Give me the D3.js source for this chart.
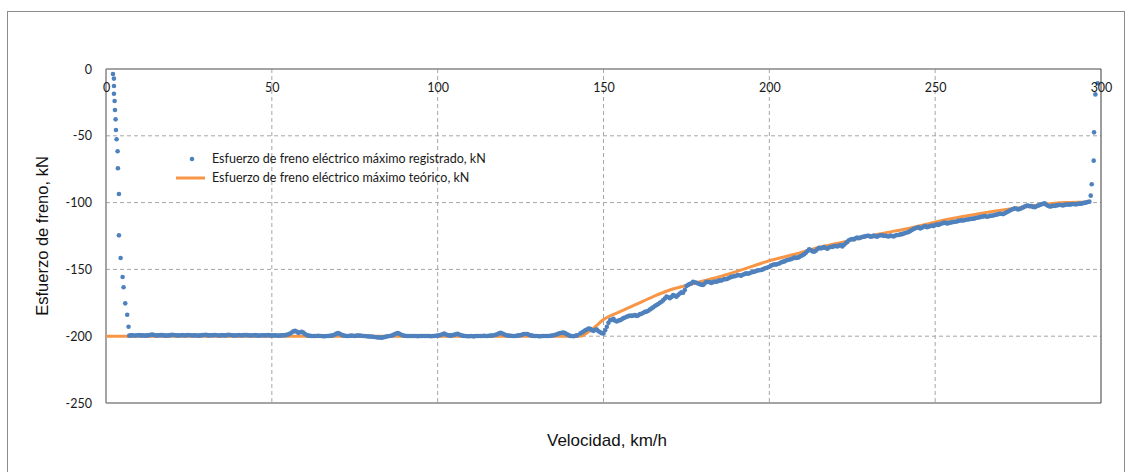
<!DOCTYPE html>
<html>
<head>
<meta charset="utf-8">
<script src="https://cdn.jsdelivr.net/npm/d3@7"></script>
<style>
  html, body { margin: 0; padding: 0; background: #fff; }
  svg { display: block; }
</style>
</head>
<body>
<div id="chart"></div>
<script>
// ticks
const xTicks = [0, 50, 100, 150, 200, 250, 300];
const yTicks = [0, -50, -100, -150, -200, -250];

// registrado: caída inicial [km/h, kN]
const regArranque = [
  [2.1, -3.7], [2.4, -7.2], [2.4, -12.7], [2.4, -18.5], [2.6, -24], [2.7, -30.7],
  [2.9, -37.7], [3.0, -45.7], [3.2, -52.6], [3.5, -61.6], [3.6, -74.3], [3.9, -93.6],
  [3.9, -124.5], [4.4, -141.5], [5.0, -155.7], [5.3, -163.4], [5.8, -175.4],
  [6.4, -183.9], [6.8, -192.9]
];

// registrado: meseta a -200 kN
const regMeseta = [
  [7, -199.6], [8, -199.3], [9, -199.5], [10, -199.2], [11, -199.4], [12, -199.6], [13, -199.3],
  [14, -198.8], [15, -199.5], [16, -199.3], [17, -199.2], [18, -199.6], [19, -199.4], [20, -199.0],
  [21, -199.3], [22, -199.5], [23, -199.2], [24, -199.4], [25, -199.1], [26, -199.5], [27, -199.3],
  [28, -199.6], [29, -199.2], [30, -199.0], [31, -199.4], [32, -199.3], [33, -199.1], [34, -199.5],
  [35, -199.2], [36, -199.4], [37, -199.0], [38, -199.3], [39, -199.5], [40, -199.2], [41, -199.4],
  [42, -199.1], [43, -199.3], [44, -199.5], [45, -199.2], [46, -199.6], [47, -199.3], [48, -199.4],
  [49, -199.2], [50, -199.5], [51, -199.3], [52, -199.6], [53, -199.4], [54, -199.2], [55, -198.6],
  [56, -197.2], [57, -195.9], [58, -197.5], [59, -196.8], [60, -198.4], [61, -199.6], [62, -199.8],
  [63, -199.9], [64, -199.7], [65, -199.9], [66, -200.0], [67, -199.8], [68, -199.6], [69, -198.8],
  [70, -197.6], [71, -199.0], [72, -199.7], [73, -199.9], [74, -199.6], [75, -199.8], [76, -199.5],
  [77, -199.7], [78, -199.9], [79, -200.1], [80, -200.3], [81, -200.6], [82, -200.9], [83, -201.2],
  [84, -200.6], [85, -200.0], [86, -199.7], [87, -198.6], [88, -197.6], [89, -198.9], [90, -199.7],
  [91, -199.8], [92, -199.9], [93, -199.8], [94, -200.0], [95, -199.9], [96, -199.8], [97, -199.9],
  [98, -200.0], [99, -199.8], [100, -199.6], [101, -199.0], [102, -198.1], [103, -199.2], [104, -199.6],
  [105, -198.9], [106, -198.2], [107, -199.3], [108, -199.8], [109, -200.0], [110, -199.9], [111, -200.1],
  [112, -199.8], [113, -199.9], [114, -199.7], [115, -199.9], [116, -199.6], [117, -199.3], [118, -198.5],
  [119, -197.4], [120, -198.6], [121, -199.5], [122, -199.7], [123, -199.9], [124, -199.6], [125, -199.3],
  [126, -198.4], [127, -198.3], [128, -199.4], [129, -199.8], [130, -199.9], [131, -200.0], [132, -199.8],
  [133, -199.9], [134, -199.7], [135, -199.3], [136, -198.5], [137, -197.6], [138, -197.3], [139, -198.6],
  [140, -199.8], [141, -200.0], [142, -199.4]
];

// registrado: meseta, lecturas intermedias
const regMesetaMedia = [
  [7.5, -199.4], [8.5, -199.5], [9.5, -199.3], [10.5, -199.4], [11.5, -199.5], [12.5, -199.4],
  [13.5, -199.0], [14.5, -199.1], [15.5, -199.4], [16.5, -199.2], [17.5, -199.4], [18.5, -199.5],
  [19.5, -199.2], [20.5, -199.1], [21.5, -199.4], [22.5, -199.3], [23.5, -199.3], [24.5, -199.2],
  [25.5, -199.3], [26.5, -199.4], [27.5, -199.5], [28.5, -199.4], [29.5, -199.1], [30.5, -199.2],
  [31.5, -199.3], [32.5, -199.2], [33.5, -199.3], [34.5, -199.4], [35.5, -199.3], [36.5, -199.2],
  [37.5, -199.1], [38.5, -199.4], [39.5, -199.3], [40.5, -199.3], [41.5, -199.2], [42.5, -199.2],
  [43.5, -199.4], [44.5, -199.3], [45.5, -199.4], [46.5, -199.5], [47.5, -199.3], [48.5, -199.3],
  [49.5, -199.4], [50.5, -199.4], [51.5, -199.5], [52.5, -199.5], [53.5, -199.3], [54.5, -199.0],
  [55.5, -198.0], [56.5, -196.4], [57.5, -196.6], [58.5, -197.0], [59.5, -197.3], [60.5, -199.1],
  [61.5, -199.7], [62.5, -199.9], [63.5, -199.8], [64.5, -199.8], [65.5, -200.0], [66.5, -199.9],
  [67.5, -199.7], [68.5, -199.3], [69.5, -198.1], [70.5, -198.2], [71.5, -199.4], [72.5, -199.8],
  [73.5, -199.7], [74.5, -199.7], [75.5, -199.6], [76.5, -199.6], [77.5, -199.8], [78.5, -200.0],
  [79.5, -200.2], [80.5, -200.4], [81.5, -200.8], [82.5, -201.0], [83.5, -200.9], [84.5, -200.3],
  [85.5, -199.8], [86.5, -199.2], [87.5, -198.0], [88.5, -198.2], [89.5, -199.4], [90.5, -199.8],
  [91.5, -199.9], [92.5, -199.8], [93.5, -199.9], [94.5, -199.9], [95.5, -199.8], [96.5, -199.9],
  [97.5, -199.9], [98.5, -199.9], [99.5, -199.7], [100.5, -199.3], [101.5, -198.5], [102.5, -198.7],
  [103.5, -199.4], [104.5, -199.2], [105.5, -198.5], [106.5, -198.8], [107.5, -199.6], [108.5, -199.9],
  [109.5, -200.0], [110.5, -200.0], [111.5, -199.9], [112.5, -199.9], [113.5, -199.8], [114.5, -199.8],
  [115.5, -199.7], [116.5, -199.5], [117.5, -198.9], [118.5, -197.9], [119.5, -198.0], [120.5, -199.1],
  [121.5, -199.6], [122.5, -199.8], [123.5, -199.8], [124.5, -199.4], [125.5, -198.8], [126.5, -198.3],
  [127.5, -198.9], [128.5, -199.6], [129.5, -199.9], [130.5, -200.0], [131.5, -199.9], [132.5, -199.9],
  [133.5, -199.8], [134.5, -199.5], [135.5, -198.9], [136.5, -198.0], [137.5, -197.4], [138.5, -197.9],
  [139.5, -199.2], [140.5, -199.9], [141.5, -199.7]
];

// registrado: zona de potencia constante
const regRampa = [
  [143, -198], [144, -196.5], [145, -195], [146, -194.5], [147, -196], [148, -195], [149, -197],
  [150, -198], [151, -193], [152, -188], [153, -187], [154, -189], [155, -188], [156, -186.5],
  [157, -185.4], [158, -184.5], [159, -184.5], [160, -184.9], [161, -183.5], [162, -182.5], [163, -181.6],
  [164, -180], [165, -178.3], [166, -176.6], [167, -175], [168, -173], [169, -170.4], [170, -171.6],
  [171, -169.2], [172, -170.4], [173, -168], [174, -167.5], [175, -162.5], [176, -161], [177, -159.2],
  [178, -160], [179, -161], [180, -161.7], [181, -159.2], [182, -159.5], [183, -159.6], [184, -159.2],
  [185, -158.2], [186, -157.8], [187, -157.4], [188, -156.2], [189, -155.3], [190, -154.7], [191, -154.4],
  [192, -154], [193, -153], [194, -152.9], [195, -152], [196, -151.2], [197, -150.6], [198, -150],
  [199, -149], [200, -148], [201, -146.7], [202, -146.4], [203, -145.6], [204, -144.4], [205, -143.4],
  [206, -142.6], [207, -141.8], [208, -141.4], [209, -140.8], [210, -139.4], [211, -137.5], [212, -135],
  [213, -136.5], [214, -136], [215, -133.8], [216, -134], [217, -134], [218, -133.6], [219, -133.2],
  [220, -132.5], [221, -132.2], [222, -132.8], [223, -130.5], [224, -128.2], [225, -127.2], [226, -126.7],
  [227, -126.7], [228, -125.8], [229, -125.2], [230, -124.9], [231, -125.3], [232, -125.2], [233, -124.8],
  [234, -124.4], [235, -124.8], [236, -125.4], [237, -125], [238, -124.6], [239, -124.3], [240, -123.6],
  [241, -122.8], [242, -122], [243, -120.5], [244, -119.2], [245, -118.4], [246, -118.8], [247, -117.6],
  [248, -118], [249, -117.2], [250, -116.8], [251, -116.8], [252, -115.6], [253, -115], [254, -115.4],
  [255, -114.8], [256, -114.3], [257, -113.7], [258, -113.3], [259, -113], [260, -112.6], [261, -112.2],
  [262, -111.8], [263, -111.2], [264, -110.6], [265, -110], [266, -110.4], [267, -109.8], [268, -109.3],
  [269, -108.7], [270, -108.3], [271, -108], [272, -106.7], [273, -105.3], [274, -104.3], [275, -105.2],
  [276, -104.2], [277, -103], [278, -102.2], [279, -102.6], [280, -103.4], [281, -102.3], [282, -101.3],
  [283, -100.6], [284, -102.4], [285, -102.8], [286, -102.5], [287, -101.9], [288, -101.8], [289, -101.7],
  [290, -101.4], [291, -101.3], [292, -101.2], [293, -101], [294, -100.8], [295, -100.2], [296, -99.5]
];

// registrado: zona de potencia constante, lecturas intermedias
const regRampaMedia = [
  [143.5, -197.2], [144.5, -195.6], [145.5, -194.2], [146.5, -195.6], [147.5, -195.2], [148.5, -196.3],
  [149.5, -197.8], [150.5, -195.5], [151.5, -190], [152.5, -187.8], [153.5, -188.4], [154.5, -188.2],
  [155.5, -187.4], [156.5, -186], [157.5, -185], [158.5, -184.8], [159.5, -184.2], [160.5, -184.4],
  [161.5, -183.2], [162.5, -181.8], [163.5, -181], [164.5, -179.2], [165.5, -177.4], [166.5, -175.9],
  [167.5, -174.2], [168.5, -171.8], [169.5, -170.8], [170.5, -170.6], [171.5, -169.8], [172.5, -169.2],
  [173.5, -167.2], [174.5, -165.5], [175.5, -161.6], [176.5, -160.4], [177.5, -159.6], [178.5, -160.6],
  [179.5, -161.4], [180.5, -160.5], [181.5, -159.4], [182.5, -160.2], [183.5, -159.1], [184.5, -158.8],
  [185.5, -158.4], [186.5, -157.2], [187.5, -156.9], [188.5, -155.6], [189.5, -155.1], [190.5, -154.2],
  [191.5, -154.8], [192.5, -153.4], [193.5, -153.2], [194.5, -152.3], [195.5, -151.8], [196.5, -150.7],
  [197.5, -150.4], [198.5, -149.4], [199.5, -148.6], [200.5, -147.2], [201.5, -146.2], [202.5, -146],
  [203.5, -144.8], [204.5, -144], [205.5, -143], [206.5, -142.4], [207.5, -141.2], [208.5, -141.2],
  [209.5, -140], [210.5, -138.6], [211.5, -136.3], [212.5, -135.6], [213.5, -136.8], [214.5, -134.8],
  [215.5, -134.4], [216.5, -133.2], [217.5, -134.5], [218.5, -133], [219.5, -132.6], [220.5, -132.9],
  [221.5, -131.8], [222.5, -131.6], [223.5, -129.4], [224.5, -127.6], [225.5, -127.6], [226.5, -126.2],
  [227.5, -126.2], [228.5, -125.5], [229.5, -124.8], [230.5, -125.6], [231.5, -124.7], [232.5, -125.6],
  [233.5, -124.4], [234.5, -124.9], [235.5, -125.2], [236.5, -124.6], [237.5, -125.3], [238.5, -124.2],
  [239.5, -123.8], [240.5, -123.2], [241.5, -122.4], [242.5, -121.2], [243.5, -119.8], [244.5, -118.8],
  [245.5, -119.3], [246.5, -118.1], [247.5, -118.4], [248.5, -117.5], [249.5, -117.6], [250.5, -116.3],
  [251.5, -116], [252.5, -115.2], [253.5, -115.6], [254.5, -114.9], [255.5, -114.5], [256.5, -114.1],
  [257.5, -113.4], [258.5, -113.4], [259.5, -112.7], [260.5, -112.3], [261.5, -112], [262.5, -111.3],
  [263.5, -110.9], [264.5, -110.3], [265.5, -110.6], [266.5, -109.9], [267.5, -109.6], [268.5, -109],
  [269.5, -108.4], [270.5, -108.6], [271.5, -107.3], [272.5, -106], [273.5, -104.8], [274.5, -104.6],
  [275.5, -104.8], [276.5, -103.6], [277.5, -102.4], [278.5, -102.8], [279.5, -103.2], [280.5, -102.8],
  [281.5, -101.8], [282.5, -100.9], [283.5, -101.6], [284.5, -102.9], [285.5, -102.3], [286.5, -102.1],
  [287.5, -101.6], [288.5, -102.1], [289.5, -101.5], [290.5, -101.5], [291.5, -101], [292.5, -101.3],
  [293.5, -100.8], [294.5, -100.5], [295.5, -100]
];

// registrado: subida final
const regFinal = [
  [296.5, -99.3], [296.9, -94.8], [297.2, -86.3], [297.8, -68.6], [297.9, -47.4],
  [298.3, -19], [299, -10.7]
];

// teórico
const teorico = [
  [0, -200], [143, -200], [145, -197.5], [147, -194], [150, -187.5], [155, -181.6], [160, -176],
  [165, -170.4], [170, -165.4], [175, -162], [180, -158.7], [185, -155.5], [190, -151.7],
  [195, -147.5], [200, -143.5], [207.7, -138.7], [212.7, -135], [222.8, -129.2], [232.8, -123.7],
  [242.9, -118.8], [253.9, -112.5], [264, -108], [274, -104.3], [284, -101], [289, -100], [296, -99.5]
];

const serieNombres = [
  "Esfuerzo de freno eléctrico máximo registrado, kN",
  "Esfuerzo de freno eléctrico máximo teórico, kN"
];

const W = 1131, H = 472;
const blue = "#4F81BD", orange = "#F79646";

const svg = d3.select("#chart").append("svg")
  .attr("width", W).attr("height", H);

// marco exterior
svg.append("rect")
  .attr("x", 7.5).attr("y", 11.5)
  .attr("width", 1117).attr("height", 480)
  .attr("fill", "none").attr("stroke", "#8c8c8c").attr("stroke-width", 1);

const x = d3.scaleLinear().domain([0, 300]).range([106, 1101]);
const y = d3.scaleLinear().domain([-250, 0]).range([403, 69]);

// rejilla
svg.append("g").selectAll("line")
  .data(yTicks.filter(d => d !== 0 && d !== -250))
  .join("line")
  .attr("x1", x(0)).attr("x2", x(300))
  .attr("y1", d => y(d)).attr("y2", d => y(d))
  .attr("stroke", "#a6a6a6").attr("stroke-dasharray", "4,3").attr("stroke-width", 1);

svg.append("g").selectAll("line")
  .data(xTicks.filter(d => d !== 0 && d !== 300))
  .join("line")
  .attr("x1", d => x(d)).attr("x2", d => x(d))
  .attr("y1", y(0)).attr("y2", y(-250))
  .attr("stroke", "#a6a6a6").attr("stroke-dasharray", "4,3").attr("stroke-width", 1);

// ejes
const axisCol = "#868686";
svg.append("line").attr("x1", x(0)).attr("x2", x(300)).attr("y1", y(0)).attr("y2", y(0))
  .attr("stroke", axisCol).attr("stroke-width", 1.5);
svg.append("line").attr("x1", x(0)).attr("x2", x(300)).attr("y1", y(-250)).attr("y2", y(-250))
  .attr("stroke", axisCol).attr("stroke-width", 1.5);
svg.append("line").attr("x1", x(0)).attr("x2", x(0)).attr("y1", y(0)).attr("y2", y(-250))
  .attr("stroke", axisCol).attr("stroke-width", 1.5);
svg.append("line").attr("x1", x(300)).attr("x2", x(300)).attr("y1", y(0)).attr("y2", y(-250))
  .attr("stroke", "#3a3a3a").attr("stroke-width", 1);

// serie teórica
const line = d3.line().x(d => x(d[0])).y(d => y(d[1])).curve(d3.curveMonotoneX);
svg.append("path")
  .datum(teorico)
  .attr("d", line)
  .attr("fill", "none").attr("stroke", orange).attr("stroke-width", 3);

// serie registrada
const registrado = regArranque.concat(regMeseta, regMesetaMedia, regRampa, regRampaMedia, regFinal);
svg.append("g").selectAll("circle")
  .data(registrado)
  .join("circle")
  .attr("cx", d => x(d[0]))
  .attr("cy", d => y(d[1]))
  .attr("r", 2.3)
  .attr("fill", blue);

// etiquetas de ejes
const tickFont = "Lato, 'Open Sans', sans-serif";
const gx = svg.append("g")
  .attr("transform", `translate(0,${y(0)})`)
  .call(d3.axisBottom(x).tickValues(xTicks).tickSize(0).tickPadding(14).tickFormat(d => String(d)));
gx.select(".domain").remove();
gx.selectAll("text").attr("font-family", tickFont).attr("font-size", 12.5).attr("fill", "#1a1a1a");

const gy = svg.append("g")
  .attr("transform", `translate(${x(0)},0)`)
  .call(d3.axisLeft(y).tickValues(yTicks).tickSize(0).tickPadding(14).tickFormat(d => String(d)));
gy.select(".domain").remove();
gy.selectAll("text").attr("font-family", tickFont).attr("font-size", 12.5).attr("fill", "#1a1a1a");

// títulos
svg.append("text")
  .attr("transform", `translate(48,236) rotate(-90)`)
  .attr("text-anchor", "middle")
  .attr("font-family", "'Liberation Sans', Arial, sans-serif")
  .attr("font-size", 16.5)
  .attr("fill", "#111")
  .text("Esfuerzo de freno, kN");

svg.append("text")
  .attr("x", 607).attr("y", 446)
  .attr("text-anchor", "middle")
  .attr("font-family", "'Liberation Sans', Arial, sans-serif")
  .attr("font-size", 17)
  .attr("fill", "#111")
  .text("Velocidad, km/h");

// leyenda
const legend = svg.append("g").attr("font-family", tickFont).attr("font-size", 12.5).attr("fill", "#1a1a1a");
legend.append("circle").attr("cx", 192).attr("cy", 159).attr("r", 2.3).attr("fill", blue);
legend.append("line").attr("x1", 176).attr("x2", 205).attr("y1", 178).attr("y2", 178)
  .attr("stroke", orange).attr("stroke-width", 3);
legend.selectAll("text")
  .data(serieNombres)
  .join("text")
  .attr("x", 212)
  .attr("y", (d, i) => 159 + i * 19)
  .attr("dy", "0.35em")
  .text(d => d);
</script>
</body>
</html>
